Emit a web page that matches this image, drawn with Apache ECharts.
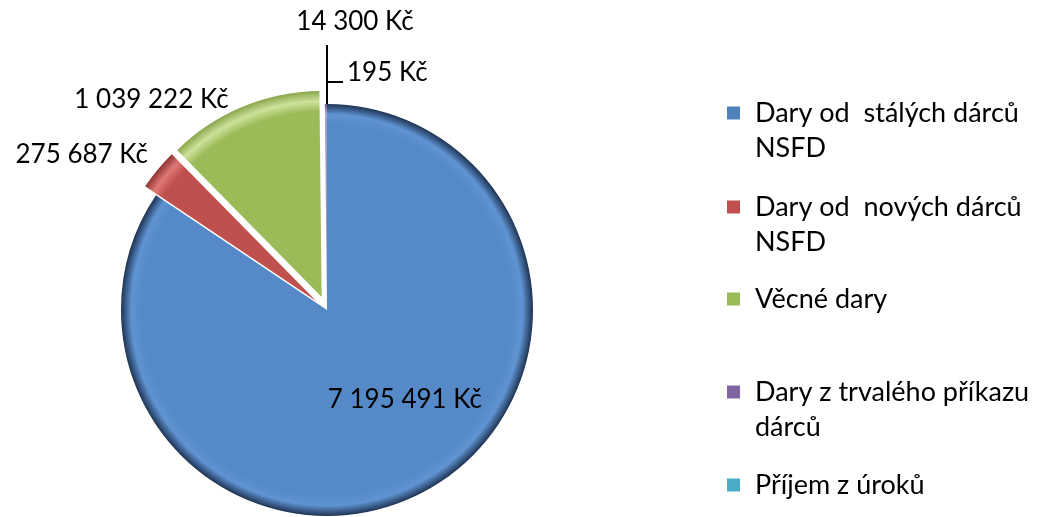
<!DOCTYPE html>
<html>
<head>
<meta charset="utf-8">
<script src="https://cdn.jsdelivr.net/npm/echarts@6/dist/echarts.min.js"></script>
<style>
  html, body { margin: 0; padding: 0; background: #fff; }
  #chart { width: 1049px; height: 517px; }
</style>
</head>
<body>
<div id="chart"></div>
<script>
// data
const categories = [
    "Dary od  stálých dárců\nNSFD",
    "Dary od  nových dárců\nNSFD",
    "Věcné dary",
    "Dary z trvalého příkazu\ndárců",
    "Příjem z úroků",
];
const values = [7195491, 275687, 1039222, 14300, 195];
const exploded = [false, true, true, false, false];

// styles
const colors = ["#5689C8", "#C0504D", "#9BBB59", "#A49AC0", "#4BACC6"];
const rimColors = ["#5F93D2", "#DE7875", "#CDE29A", "#B4ABCC", "#7CC6D9"];
const edgeColors = ["#1E3352", "#8E3432", "#8AA64C", "#6B5A85", "#245D6C"];
const legendColors = ["#4F81BD", "#C0504D", "#9BBB59", "#8064A2", "#4BACC6"];
const legendY = [113, 207, 299, 392, 485]; // centre of first legend line
const center = [327, 310];
const radius = 206;
const font = "Lato";
const lineHeight = 35;

const chartDom = document.getElementById("chart");
const myChart = echarts.init(chartDom);

const fmt = (v) => String(v).replace(/\B(?=(\d{3})+(?!\d))/g, " ") + " Kč";

const shade = (i) => ({
    type: "radial",
    x: center[0],
    y: center[1],
    r: radius,
    global: true,
    colorStops: [
        { offset: 0, color: colors[i] },
        { offset: 0.9, color: colors[i] },
        { offset: 0.95, color: rimColors[i] },
        { offset: 1, color: edgeColors[i] },
    ],
});

const option = {
    animation: false,
    legend: categories.map((name, i) => {
        const twoLines = name.indexOf("\n") >= 0;
        const h = twoLines ? lineHeight * 3 : lineHeight;
        return {
            left: 727,
            top: legendY[i] - h / 2,
            padding: 0,
            itemWidth: 13,
            itemHeight: 13,
            icon: "rect",
            selectedMode: false,
            // blank first line keeps the icon level with the first text line
            formatter: (n) => (twoLines ? "\n" + n : n),
            data: [{ name: name, itemStyle: { color: legendColors[i] } }],
            textStyle: {
                fontFamily: font,
                fontSize: 27,
                color: "#000",
                lineHeight: lineHeight,
                padding: [0, 0, 0, 10],
            },
        };
    }),
    series: [
        {
            type: "pie",
            center: center,
            radius: radius,
            startAngle: 90,
            clockwise: true,
            selectedMode: "multiple",
            selectedOffset: 14,
            avoidLabelOverlap: false,
            emphasis: { scale: false },
            itemStyle: { borderWidth: 0 },
            label: {
                position: "outside",
                fontFamily: font,
                fontSize: 26,
                color: "#000",
                formatter: (p) => fmt(p.value),
            },
            labelLine: {
                show: false,
                length: 12,
                length2: 0,
                lineStyle: { color: "#000", width: 2 },
            },
            labelLayout: function (p) {
                const i = p.dataIndex;
                const x = p.rect.x + p.rect.width;
                const y = p.rect.y;
                if (i === 3) {
                    return {
                        x: x + 28,
                        y: y - 82,
                        align: "center",
                        verticalAlign: "middle",
                        labelLinePoints: [[x, y], [x, y - 59], [x, y - 59]],
                    };
                }
                if (i === 4) {
                    return {
                        x: x + 20,
                        y: y - 31,
                        align: "left",
                        verticalAlign: "middle",
                        labelLinePoints: [[x, y], [x, y - 22], [x + 16, y - 22]],
                    };
                }
                if (i === 0) {
                    return { dx: 28, dy: -4 };
                }
            },
            data: categories.map((name, i) => {
                const item = {
                    name: name,
                    value: values[i],
                    selected: exploded[i],
                    itemStyle: { color: shade(i) },
                };
                if (i === 0) {
                    item.label = { position: "inside" };
                }
                if (i === 1) {
                    item.label = { distanceToLabelLine: -8 };
                    item.labelLine = { length: 23, length2: 0 };
                }
                if (i === 2) {
                    item.labelLine = { length: 8, length2: 6 };
                }
                if (i >= 3) {
                    item.labelLine = { show: true };
                }
                return item;
            }),
        },
    ],
};

myChart.setOption(option);
</script>
</body>
</html>
